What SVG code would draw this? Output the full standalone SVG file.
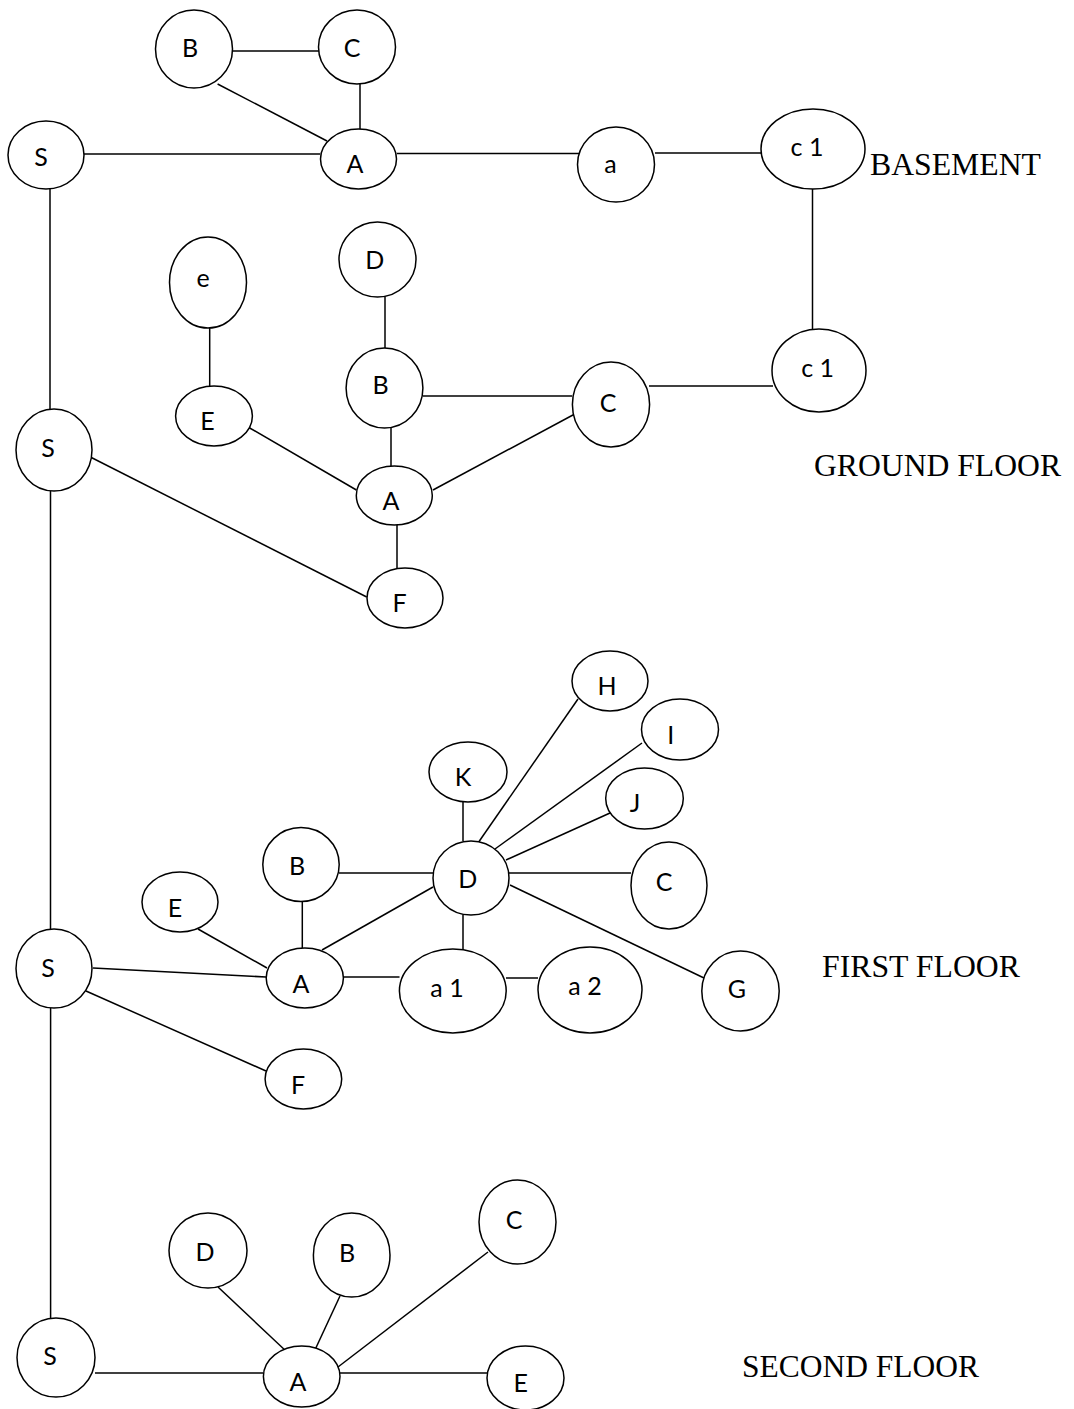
<svg xmlns="http://www.w3.org/2000/svg" width="1074" height="1409" viewBox="0 0 1074 1409">
<style>
.n ellipse{fill:#fff;stroke:#000;stroke-width:1.5}
.n text{font-family:Lato,"Open Sans","Liberation Sans",sans-serif;font-size:25px;fill:#000;text-anchor:middle}
#edges line{stroke:#000;stroke-width:1.5}
.fl{font-family:"Liberation Serif","Times New Roman",serif;font-size:32px;fill:#000}
</style>
<rect width="1074" height="1409" fill="#fff"/>
<g id="edges">
<!-- basement -->
<line x1="232" y1="51" x2="320" y2="51"/>
<line x1="217.6" y1="84" x2="327" y2="141"/>
<line x1="360" y1="84" x2="360" y2="129"/>
<line x1="84" y1="154" x2="320" y2="154"/>
<line x1="397" y1="153.5" x2="579" y2="153.5"/>
<line x1="655" y1="153" x2="761" y2="153"/>
<line x1="812.5" y1="189" x2="812.5" y2="330"/>
<line x1="50" y1="189" x2="50" y2="409"/>
<!-- ground -->
<line x1="209.7" y1="328" x2="209.7" y2="386"/>
<line x1="385" y1="297" x2="385" y2="348"/>
<line x1="423" y1="396" x2="572" y2="396"/>
<line x1="649" y1="386" x2="773" y2="386"/>
<line x1="391" y1="428" x2="391" y2="466"/>
<line x1="433" y1="490" x2="578.5" y2="412"/>
<line x1="248" y1="427" x2="356.4" y2="490"/>
<line x1="84.4" y1="454" x2="366.7" y2="597"/>
<line x1="397" y1="525" x2="397" y2="568"/>
<line x1="50.5" y1="491" x2="50.5" y2="929"/>
<!-- first -->
<line x1="93" y1="968" x2="266" y2="977"/>
<line x1="198" y1="929" x2="267" y2="968"/>
<line x1="302.3" y1="901" x2="302.3" y2="948"/>
<line x1="322" y1="950" x2="433" y2="887"/>
<line x1="339" y1="873" x2="433" y2="873"/>
<line x1="343" y1="977" x2="399.5" y2="977"/>
<line x1="463" y1="915" x2="463" y2="949"/>
<line x1="506" y1="978" x2="538" y2="978"/>
<line x1="463" y1="802" x2="463" y2="841"/>
<line x1="578" y1="699" x2="478" y2="843"/>
<line x1="642" y1="743" x2="495" y2="849"/>
<line x1="610" y1="813" x2="506" y2="860"/>
<line x1="509" y1="873" x2="631" y2="873"/>
<line x1="510" y1="885" x2="704" y2="978"/>
<line x1="86" y1="991" x2="266" y2="1071"/>
<line x1="50.6" y1="1008" x2="50.6" y2="1318"/>
<!-- second -->
<line x1="95" y1="1373" x2="263" y2="1373"/>
<line x1="340" y1="1373" x2="487" y2="1373"/>
<line x1="218" y1="1287" x2="287" y2="1352"/>
<line x1="340" y1="1296" x2="314" y2="1352"/>
<line x1="488" y1="1252" x2="338" y2="1367"/>
</g>
<!-- Basement nodes -->
<g id="b_S" class="n"><ellipse cx="46" cy="155" rx="38" ry="34"/><text x="41" y="166">S</text></g>
<g id="b_A" class="n"><ellipse cx="358.5" cy="159" rx="38" ry="30"/><text x="355" y="173">A</text></g>
<g id="b_B" class="n"><ellipse cx="194" cy="49" rx="38.5" ry="39"/><text x="190" y="57">B</text></g>
<g id="b_C" class="n"><ellipse cx="357" cy="47" rx="38.5" ry="37"/><text x="352" y="57">C</text></g>
<g id="b_a" class="n"><ellipse cx="616" cy="164.5" rx="38.5" ry="37.5"/><text x="610.5" y="173">a</text></g>
<g id="b_c1" class="n"><ellipse cx="813" cy="149" rx="52" ry="40"/><text x="807" y="156">c 1</text></g>
<!-- Ground nodes -->
<g id="g_S" class="n"><ellipse cx="54" cy="450" rx="38" ry="41"/><text x="48" y="457">S</text></g>
<g id="g_e" class="n"><ellipse cx="208" cy="282.5" rx="38.5" ry="45.5"/><text x="203" y="287">e</text></g>
<g id="g_E" class="n"><ellipse cx="214" cy="416" rx="38.4" ry="30"/><text x="207.6" y="430">E</text></g>
<g id="g_D" class="n"><ellipse cx="377.5" cy="259.5" rx="38.5" ry="37.5"/><text x="374.7" y="269">D</text></g>
<g id="g_B" class="n"><ellipse cx="384.5" cy="388" rx="38.4" ry="40"/><text x="380.5" y="394">B</text></g>
<g id="g_A" class="n"><ellipse cx="394.3" cy="495.5" rx="38" ry="29.5"/><text x="391" y="510">A</text></g>
<g id="g_F" class="n"><ellipse cx="405" cy="598" rx="38" ry="30"/><text x="399.5" y="612">F</text></g>
<g id="g_C" class="n"><ellipse cx="611" cy="404.5" rx="38.6" ry="42.5"/><text x="608" y="412">C</text></g>
<g id="g_c1" class="n"><ellipse cx="819" cy="370.5" rx="47" ry="41.5"/><text x="817.6" y="377">c 1</text></g>
<!-- First floor nodes -->
<g id="f_S" class="n"><ellipse cx="54" cy="968.5" rx="38" ry="39.5"/><text x="48" y="977">S</text></g>
<g id="f_E" class="n"><ellipse cx="180" cy="902" rx="38" ry="30"/><text x="175" y="917">E</text></g>
<g id="f_B" class="n"><ellipse cx="301" cy="864.5" rx="38.2" ry="37"/><text x="297" y="875">B</text></g>
<g id="f_A" class="n"><ellipse cx="304.8" cy="978" rx="38.6" ry="30"/><text x="301" y="993">A</text></g>
<g id="f_F" class="n"><ellipse cx="303.4" cy="1079" rx="38.3" ry="30"/><text x="298" y="1094">F</text></g>
<g id="f_D" class="n"><ellipse cx="471" cy="878" rx="38" ry="37"/><text x="467.7" y="888">D</text></g>
<g id="f_K" class="n"><ellipse cx="468" cy="772" rx="39" ry="30"/><text x="463" y="786">K</text></g>
<g id="f_H" class="n"><ellipse cx="610" cy="681" rx="38" ry="30"/><text x="607" y="695">H</text></g>
<g id="f_I" class="n"><ellipse cx="680" cy="729.5" rx="38.5" ry="30.5"/><text x="670.7" y="744">I</text></g>
<g id="f_J" class="n"><ellipse cx="644.5" cy="798.5" rx="38.8" ry="30.5"/><text x="635" y="812">J</text></g>
<g id="f_C" class="n"><ellipse cx="669" cy="885.5" rx="38" ry="43.5"/><text x="664" y="891">C</text></g>
<g id="f_G" class="n"><ellipse cx="740.5" cy="991" rx="38.7" ry="40"/><text x="737" y="998">G</text></g>
<g id="f_a1" class="n"><ellipse cx="452.8" cy="991" rx="53.4" ry="42"/><text x="447" y="997">a 1</text></g>
<g id="f_a2" class="n"><ellipse cx="590" cy="990" rx="52" ry="43"/><text x="585" y="995">a 2</text></g>
<!-- Second floor nodes -->
<g id="s_S" class="n"><ellipse cx="56" cy="1357.5" rx="39" ry="39.5"/><text x="50" y="1365">S</text></g>
<g id="s_D" class="n"><ellipse cx="208" cy="1250.5" rx="39" ry="37.5"/><text x="205" y="1261">D</text></g>
<g id="s_B" class="n"><ellipse cx="351.7" cy="1255" rx="38.3" ry="42"/><text x="347" y="1262">B</text></g>
<g id="s_C" class="n"><ellipse cx="517.5" cy="1222" rx="38.5" ry="42"/><text x="514" y="1229">C</text></g>
<g id="s_A" class="n"><ellipse cx="301.7" cy="1376.5" rx="38.3" ry="30.5"/><text x="298" y="1391">A</text></g>
<g id="s_E" class="n"><ellipse cx="525.5" cy="1378" rx="38.5" ry="32"/><text x="520.7" y="1392">E</text></g>
<!-- floor labels -->
<text class="fl" x="870" y="175" textLength="171" lengthAdjust="spacingAndGlyphs">BASEMENT</text>
<text class="fl" x="814" y="476" textLength="247" lengthAdjust="spacingAndGlyphs">GROUND FLOOR</text>
<text class="fl" x="822" y="977" textLength="198" lengthAdjust="spacingAndGlyphs">FIRST FLOOR</text>
<text class="fl" x="742" y="1377" textLength="237" lengthAdjust="spacingAndGlyphs">SECOND FLOOR</text>
</svg>
